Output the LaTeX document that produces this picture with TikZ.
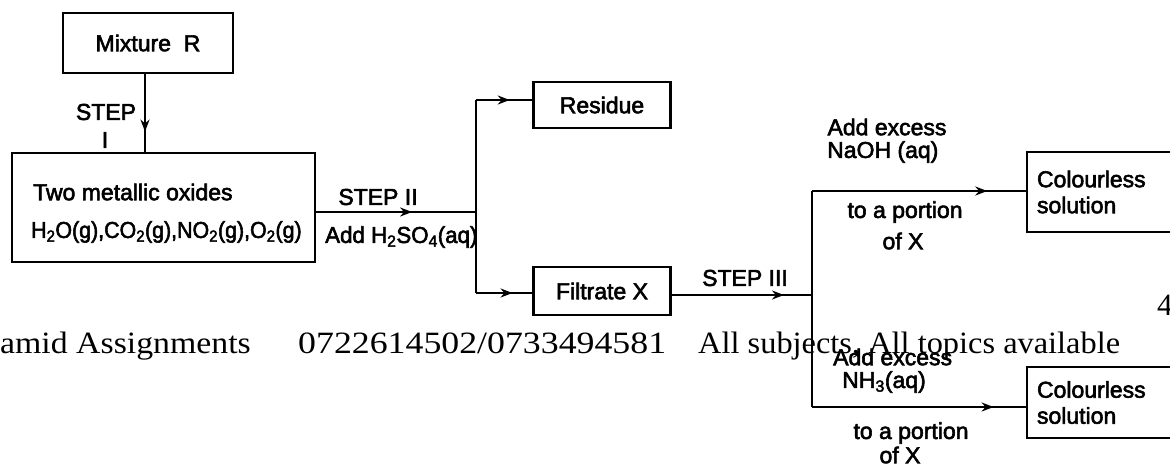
\documentclass[tikz,border=0pt]{standalone}
\usepackage{fontspec}
\setmainfont{Liberation Serif}
\newfontfamily\dfont[FakeBold=2.5]{Liberation Sans}
\usetikzlibrary{decorations.markings,arrows.meta}
\tikzset{
  box/.style={draw, line width=2.6pt, inner sep=0pt, font=\dfont\fontsize{23}{26}\selectfont},
  lbl/.style={inner sep=0pt, font=\dfont\fontsize{23}{26}\selectfont},
  wm/.style={inner sep=0pt, anchor=base west, font=\rmfamily\fontsize{31}{34}\selectfont},
  conn/.style={line width=2.2pt},
  midarr/.style={conn, postaction={decorate}, decoration={markings, mark=at position #1 with {\arrow{Stealth[length=12pt,width=9pt]}}}}
}
\begin{document}
\begin{tikzpicture}[x=1pt,y=-1pt]
\useasboundingbox (0,0) rectangle (1170,467);
\begin{scope}
\clip (0,0) rectangle (1170,467);
% boxes
\node[box, minimum width=170pt, minimum height=60pt] (mix) at (148,43) {Mixture\ \ R};
\node[box, minimum width=303pt, minimum height=109pt] (ox) at (163.5,207.5) {};
\node[lbl, anchor=west] (ox1) at (33,192) {Two metallic oxides};
\node[lbl, anchor=west] (ox2) at (31,232) {\scalebox{0.93}[1]{H\textsubscript{2}O(g),CO\textsubscript{2}(g),NO\textsubscript{2}(g),O\textsubscript{2}(g)}};
\node[box, minimum width=137pt, minimum height=46pt] (res) at (602,105) {Residue};
\node[box, minimum width=137pt, minimum height=48pt] (fil) at (602,291) {Filtrate X};
\node[box, minimum width=170pt, minimum height=80pt, text width=150pt, align=left] (c1) at (1112,192) {Colourless\\ solution};
\node[box, minimum width=170pt, minimum height=71pt, text width=150pt, align=left] (c2) at (1112,402.5) {Colourless\\ solution};
% junctions
\coordinate (j2) at (476,212);
\coordinate (j2u) at (476,100);
\coordinate (j2d) at (476,293);
\coordinate (j3) at (812,295);
\coordinate (j3u) at (812,191);
\coordinate (j3d) at (812,407);
% connectors
\draw[midarr=0.74] (mix.south -| 145,0) -- (ox.north -| 145,0);
\draw[midarr=0.6] (ox.east |- j2) -- (j2);
\draw[conn] (j2u) -- (j2d);
\draw[midarr=0.6] (j2u) -- (res.west |- j2u);
\draw[midarr=0.65] (j2d) -- (fil.west |- j2d);
\draw[midarr=0.8] (fil.east |- j3) -- (j3);
\draw[conn] (j3u) -- (j3d);
\draw[midarr=0.82] (j3u) -- (c1.west |- j3u);
\draw[midarr=0.85] (j3d) -- (c2.west |- j3d);
% labels
\node[lbl] (s1a) at (106,112) {STEP};
\node[lbl] (s1b) at (105,140) {I};
\node[lbl] (s2) at (378,197) {STEP II};
\node[lbl, anchor=west] (s2b) at (325,237) {\scalebox{0.97}[1]{Add H\textsubscript{2}SO\textsubscript{4}(aq)}};
\node[lbl] (s3) at (745,278) {STEP III};
\node[lbl] (u1) at (887,127) {Add excess};
\node[lbl, anchor=west] (u2) at (827,152) {NaOH (aq)};
\node[lbl] (u3) at (905,212) {to a portion};
\node[lbl] (u4) at (903,241) {of X};
\node[lbl, anchor=west] (d1) at (833,357) {Add excess};
\node[lbl, anchor=west] (d2) at (842,382) {NH\textsubscript{3}(aq)};
\node[lbl] (d3) at (911,433) {to a portion};
\node[lbl] (d4) at (900,455) {of X};
% watermark
\node[wm] (w1) at (0,353) {\scalebox{1.09}[1]{amid Assignments}};
\node[wm] (w2) at (298,353) {\scalebox{1.155}[1]{0722614502/0733494581}};
\node[wm] (w3) at (698,353) {\scalebox{1.045}[1]{All subjects, All topics available}};
\node[wm] (w4) at (1157,315) {4};
\end{scope}
\end{tikzpicture}
\end{document}
